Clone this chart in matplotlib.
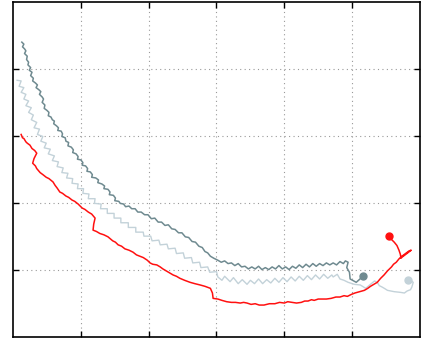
import matplotlib
matplotlib.use("Agg")
import matplotlib.pyplot as plt

# dark trajectory (x, y) points, ending at the dot
dark_pts = [
    (0.13, 4.40), (0.16, 4.37), (0.14, 4.33), (0.17, 4.30), (0.19, 4.27), (0.17, 4.23), (0.21, 4.19),
    (0.20, 4.14), (0.23, 4.10), (0.22, 4.06), (0.26, 4.02), (0.24, 3.98), (0.28, 3.95), (0.26, 3.90),
    (0.30, 3.86), (0.29, 3.82), (0.33, 3.79), (0.36, 3.76), (0.34, 3.72), (0.38, 3.69), (0.41, 3.66),
    (0.39, 3.62), (0.43, 3.58), (0.45, 3.55), (0.43, 3.50), (0.47, 3.46), (0.46, 3.41), (0.50, 3.38),
    (0.53, 3.35), (0.52, 3.30), (0.56, 3.28), (0.58, 3.24), (0.61, 3.22), (0.60, 3.18), (0.64, 3.15),
    (0.67, 3.12), (0.66, 3.08), (0.71, 3.07), (0.73, 3.03), (0.72, 2.99), (0.77, 2.97), (0.78, 2.92),
    (0.82, 2.90), (0.81, 2.85), (0.86, 2.83), (0.89, 2.79), (0.88, 2.75), (0.93, 2.73), (0.96, 2.69),
    (0.95, 2.65), (1.00, 2.64), (1.03, 2.60), (1.02, 2.56), (1.07, 2.55), (1.10, 2.51), (1.09, 2.47),
    (1.14, 2.46), (1.17, 2.42), (1.16, 2.38), (1.22, 2.37), (1.26, 2.34), (1.25, 2.30), (1.31, 2.28),
    (1.35, 2.25), (1.34, 2.21), (1.40, 2.20), (1.43, 2.16), (1.42, 2.12), (1.48, 2.11), (1.51, 2.07),
    (1.50, 2.03), (1.56, 2.02), (1.58, 1.99), (1.63, 1.98), (1.66, 1.94), (1.71, 1.95), (1.75, 1.91),
    (1.80, 1.91), (1.84, 1.86), (1.89, 1.86), (1.94, 1.82), (1.99, 1.82), (2.04, 1.76), (2.09, 1.77),
    (2.14, 1.71), (2.19, 1.71), (2.24, 1.66), (2.29, 1.67), (2.34, 1.61), (2.39, 1.60), (2.44, 1.55),
    (2.49, 1.55), (2.54, 1.49), (2.59, 1.48), (2.64, 1.42), (2.69, 1.41), (2.74, 1.35), (2.79, 1.33),
    (2.83, 1.27), (2.87, 1.25), (2.91, 1.20), (2.96, 1.17), (3.02, 1.14), (3.07, 1.11), (3.12, 1.13),
    (3.17, 1.09), (3.22, 1.10), (3.27, 1.06), (3.32, 1.09), (3.37, 1.04), (3.42, 1.05), (3.47, 1.01),
    (3.52, 1.04), (3.57, 1.01), (3.62, 1.05), (3.67, 1.00), (3.72, 1.03), (3.77, 1.00), (3.82, 1.04),
    (3.87, 1.01), (3.92, 1.06), (3.97, 1.01), (4.02, 1.04), (4.07, 1.00), (4.12, 1.05), (4.17, 1.02),
    (4.22, 1.07), (4.27, 1.03), (4.32, 1.08), (4.37, 1.04), (4.42, 1.09), (4.47, 1.05), (4.52, 1.09),
    (4.57, 1.06), (4.62, 1.10), (4.67, 1.07), (4.72, 1.10), (4.77, 1.07), (4.82, 1.12), (4.87, 1.09),
    (4.90, 1.13), (4.94, 1.11), (4.92, 1.03), (4.96, 0.96), (4.97, 0.86), (5.06, 0.81), (5.16, 0.90),
]

# light trajectory (x, y) points, ending at the dot
light_pts = [
    (0.06, 3.83), (0.12, 3.82), (0.09, 3.74), (0.16, 3.72), (0.12, 3.65), (0.19, 3.62), (0.16, 3.55),
    (0.23, 3.52), (0.19, 3.45), (0.27, 3.42), (0.23, 3.35), (0.30, 3.31), (0.27, 3.24), (0.35, 3.20),
    (0.31, 3.12), (0.39, 3.10), (0.36, 3.02), (0.44, 2.99), (0.41, 2.92), (0.49, 2.89), (0.46, 2.82),
    (0.55, 2.80), (0.52, 2.73), (0.61, 2.70), (0.58, 2.63), (0.67, 2.61), (0.65, 2.54), (0.74, 2.52),
    (0.72, 2.45), (0.81, 2.44), (0.79, 2.37), (0.88, 2.36), (0.87, 2.29), (0.96, 2.28), (0.95, 2.21),
    (1.04, 2.21), (1.03, 2.14), (1.12, 2.13), (1.11, 2.06), (1.21, 2.06), (1.20, 1.99), (1.30, 1.98),
    (1.29, 1.91), (1.39, 1.91), (1.39, 1.84), (1.49, 1.84), (1.49, 1.77), (1.59, 1.77), (1.59, 1.70),
    (1.70, 1.70), (1.70, 1.63), (1.81, 1.63), (1.81, 1.56), (1.92, 1.56), (1.93, 1.50), (2.03, 1.50),
    (2.05, 1.43), (2.15, 1.44), (2.17, 1.37), (2.27, 1.38), (2.29, 1.31), (2.39, 1.32), (2.41, 1.24),
    (2.51, 1.25), (2.53, 1.17), (2.63, 1.18), (2.65, 1.10), (2.75, 1.11), (2.77, 1.03), (2.87, 1.04),
    (2.90, 0.96), (3.00, 0.97), (3.02, 0.89), (3.08, 0.84), (3.12, 0.90), (3.20, 0.82), (3.25, 0.88),
    (3.32, 0.79), (3.38, 0.85), (3.45, 0.78), (3.50, 0.84), (3.56, 0.79), (3.62, 0.86), (3.68, 0.79),
    (3.74, 0.85), (3.80, 0.80), (3.86, 0.87), (3.92, 0.81), (3.98, 0.88), (4.04, 0.82), (4.10, 0.89),
    (4.16, 0.83), (4.22, 0.90), (4.28, 0.84), (4.34, 0.91), (4.40, 0.85), (4.46, 0.92), (4.52, 0.86),
    (4.58, 0.93), (4.64, 0.87), (4.70, 0.92), (4.72, 0.89), (4.78, 0.93), (4.82, 0.86), (4.88, 0.84),
    (4.94, 0.81), (5.03, 0.78), (5.12, 0.77), (5.20, 0.72), (5.27, 0.78), (5.33, 0.83), (5.37, 0.81),
    (5.40, 0.76), (5.44, 0.74), (5.49, 0.71), (5.52, 0.69), (5.62, 0.67), (5.71, 0.66), (5.77, 0.65),
    (5.81, 0.68), (5.86, 0.70), (5.88, 0.74), (5.90, 0.81), (5.86, 0.84), (5.83, 0.84),
]

# red trajectory (x, y) points, ending at the dot
red_pts = [
    (0.12, 3.02), (0.14, 2.97), (0.16, 2.96), (0.19, 2.91), (0.21, 2.89), (0.25, 2.86), (0.28, 2.81),
    (0.32, 2.78), (0.35, 2.74), (0.33, 2.70), (0.31, 2.66), (0.29, 2.59), (0.33, 2.55), (0.35, 2.51),
    (0.40, 2.45), (0.44, 2.42), (0.49, 2.38), (0.53, 2.36), (0.59, 2.31), (0.62, 2.26), (0.65, 2.22),
    (0.69, 2.16), (0.73, 2.14), (0.78, 2.10), (0.82, 2.08), (0.87, 2.04), (0.91, 2.02), (0.96, 1.98),
    (1.02, 1.92), (1.06, 1.90), (1.11, 1.86), (1.16, 1.83), (1.21, 1.77), (1.19, 1.68), (1.18, 1.59),
    (1.23, 1.57), (1.28, 1.54), (1.34, 1.52), (1.40, 1.49), (1.47, 1.43), (1.51, 1.41), (1.55, 1.37),
    (1.60, 1.35), (1.65, 1.31), (1.71, 1.29), (1.77, 1.26), (1.82, 1.22), (1.87, 1.20), (1.92, 1.18),
    (1.98, 1.14), (2.02, 1.10), (2.06, 1.08), (2.12, 1.07), (2.17, 1.04), (2.21, 1.01), (2.26, 0.98),
    (2.31, 0.95), (2.36, 0.92), (2.41, 0.90), (2.46, 0.87), (2.53, 0.84), (2.61, 0.81), (2.68, 0.79),
    (2.76, 0.77), (2.83, 0.75), (2.91, 0.72), (2.94, 0.65), (2.95, 0.57), (3.02, 0.56), (3.08, 0.54),
    (3.15, 0.52), (3.22, 0.51), (3.28, 0.51), (3.35, 0.50), (3.40, 0.51), (3.45, 0.50), (3.51, 0.48),
    (3.57, 0.49), (3.63, 0.47), (3.70, 0.47), (3.78, 0.49), (3.86, 0.49), (3.93, 0.51), (4.00, 0.50),
    (4.05, 0.52), (4.11, 0.51), (4.18, 0.50), (4.25, 0.51), (4.30, 0.53), (4.35, 0.53), (4.40, 0.55),
    (4.44, 0.54), (4.50, 0.56), (4.56, 0.56), (4.62, 0.56), (4.69, 0.57), (4.76, 0.59), (4.82, 0.59),
    (4.88, 0.61), (4.93, 0.60), (4.99, 0.63), (5.04, 0.65), (5.11, 0.67), (5.18, 0.69), (5.23, 0.72),
    (5.27, 0.75), (5.32, 0.78), (5.37, 0.81), (5.42, 0.87), (5.47, 0.92), (5.52, 0.98), (5.58, 1.04),
    (5.61, 1.08), (5.65, 1.11), (5.69, 1.16), (5.72, 1.19), (5.76, 1.22), (5.80, 1.25), (5.84, 1.28),
    (5.87, 1.29), (5.82, 1.25), (5.78, 1.22), (5.74, 1.19), (5.72, 1.17), (5.71, 1.23), (5.69, 1.29),
    (5.66, 1.36), (5.62, 1.41), (5.58, 1.45), (5.55, 1.50),
]

series = [
    (light_pts, "#c3d2d9", 1.0),
    (dark_pts, "#6f8a90", 1.1),
    (red_pts, "#ff1010", 1.1),
]

fig = plt.figure(figsize=(4.29, 3.40), dpi=100)
ax = fig.add_axes([13 / 429, 3.5 / 340, 407 / 429, 334.5 / 340])

for pts, c, lw in series:
    xs = [p[0] for p in pts]
    ys = [p[1] for p in pts]
    ax.plot(xs, ys, color=c, lw=lw, solid_joinstyle="round")
    ax.plot(xs[-1], ys[-1], "o", color=c, ms=5, mec=c)

ax.set_xlim(0, 6)
ax.set_ylim(0, 5)
ax.set_xticks([1, 2, 3, 4, 5])
ax.set_yticks([1, 2, 3, 4])
ax.tick_params(direction="in", length=4, width=1, top=True, right=True,
               labelbottom=False, labelleft=False)
ax.grid(True, linestyle=(0, (1, 3)), color="#999999", linewidth=0.8)
for s in ax.spines.values():
    s.set_linewidth(1.2)
    s.set_color("black")

fig.savefig("out.png", dpi=100)
